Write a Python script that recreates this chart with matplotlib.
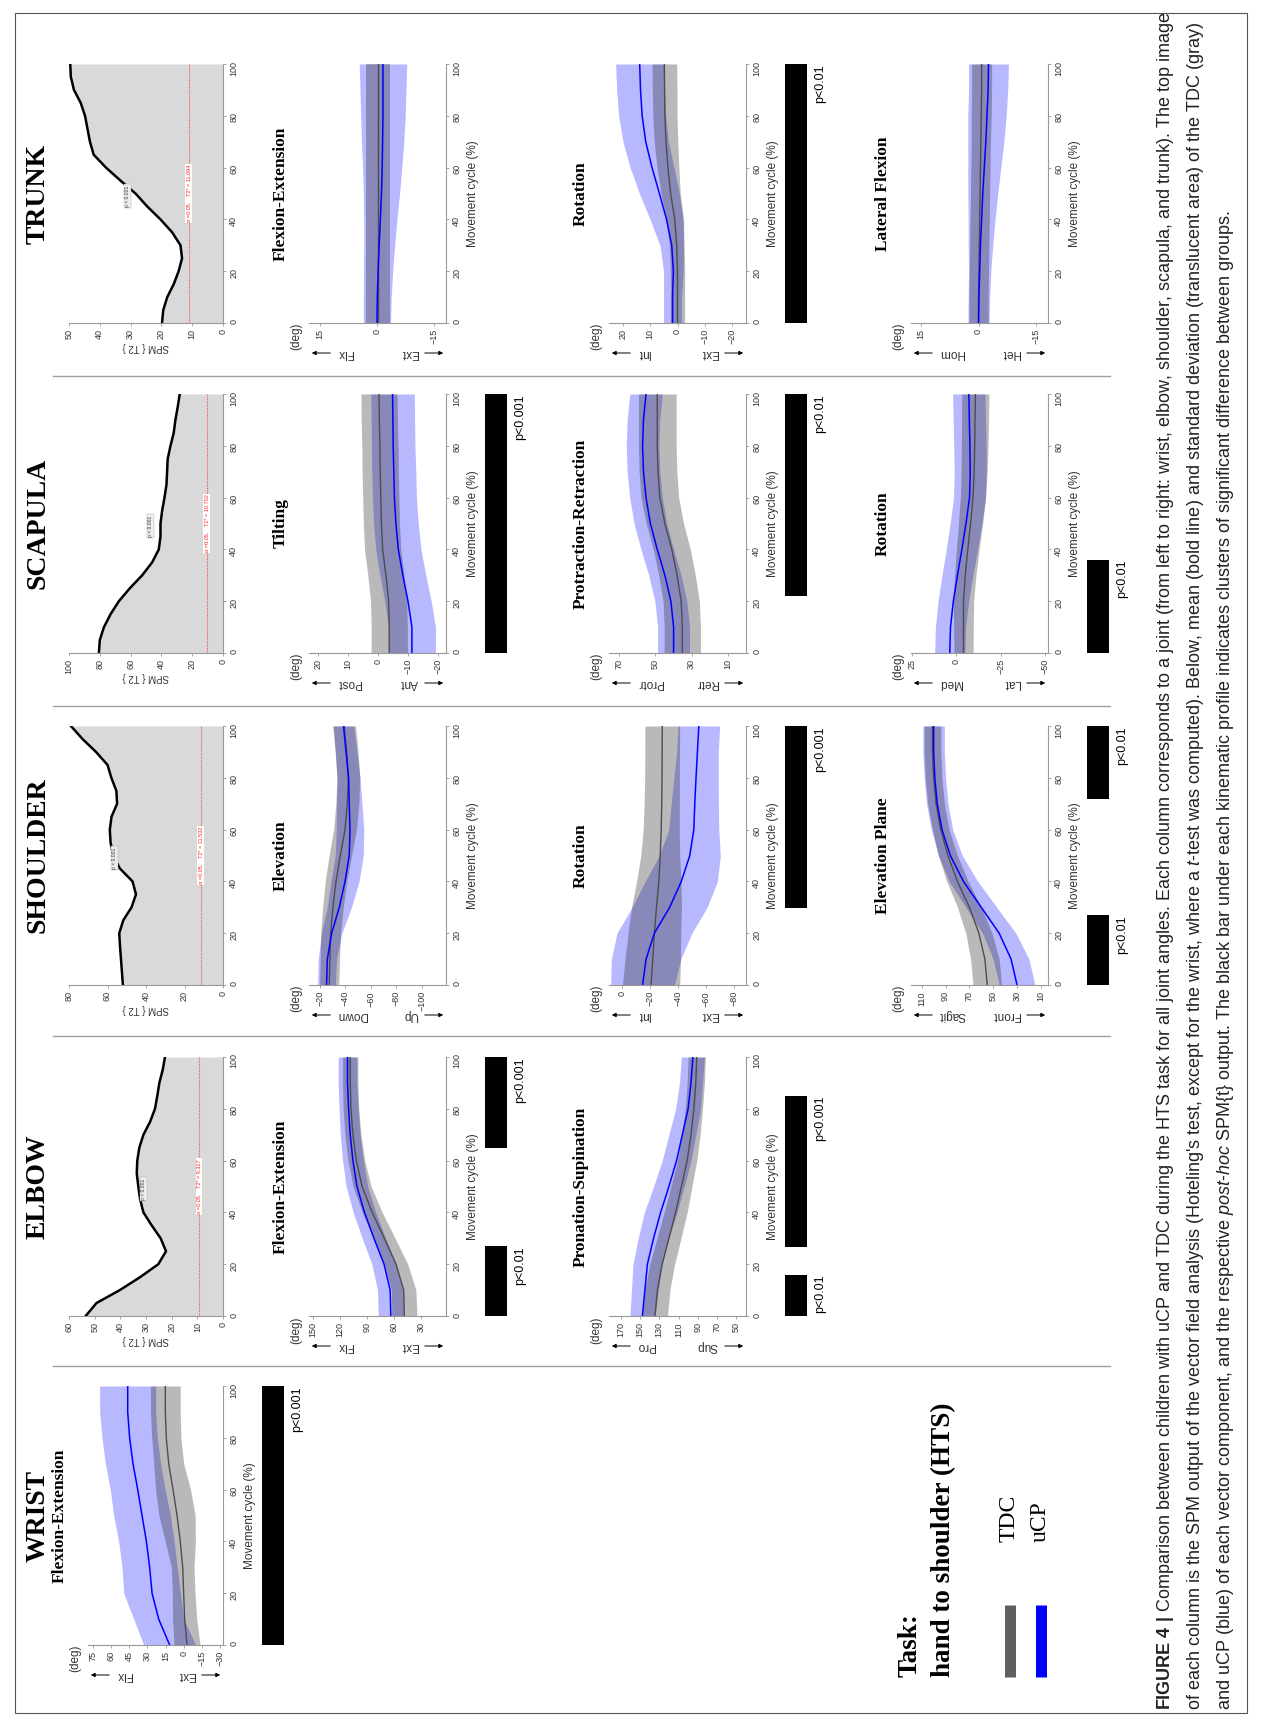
import matplotlib
matplotlib.use("Agg")
import matplotlib.pyplot as plt
from matplotlib.lines import Line2D
from matplotlib.patches import Rectangle, FancyArrowPatch
from matplotlib.transforms import blended_transform_factory

W, H = 1263, 1725

MOV = [0, 10, 20, 30, 40, 50, 60, 70, 80, 90, 100]
MOV5 = [0, 5, 10, 15, 20, 25, 30, 35, 40, 45, 50, 55, 60, 65, 70, 75, 80, 85, 90, 95, 100]
MOV_TICKS = [0, 20, 40, 60, 80, 100]

# ---------------- SPM{T2} curves ----------------
trunk_spm = [19.8, 19.4, 18.1, 16.0, 14.4, 13.3, 13.8, 16.5, 20.3, 24.6, 28.4,
             33.3, 38.0, 42.0, 43.2, 44.0, 44.8, 46.2, 48.4, 49.4, 49.6]
scapula_spm = [80.6, 80.0, 77.3, 73.0, 67.6, 60.5, 52.5, 46.0, 41.7, 40.6, 40.6,
               39.5, 38.0, 36.7, 36.3, 35.9, 34.1, 32.0, 30.9, 29.4, 28.1]
shoulder_spm = [52.0, 52.5, 53.0, 53.5, 53.9, 51.8, 47.5, 45.2, 47.0, 53.6, 57.0,
                58.4, 58.8, 57.9, 55.0, 55.4, 58.0, 60.0, 66.0, 73.0, 79.0]
elbow_spm = [53.5, 49.3, 40.2, 32.3, 25.2, 22.2, 24.3, 27.8, 31.0, 32.3, 33.0,
             33.6, 33.4, 32.6, 31.0, 28.4, 26.5, 25.6, 24.8, 23.5, 22.6]

# ---------------- kinematics (mean, sd) ----------------
trunk_fe_tdc = [-0.3, -0.3, -0.3, -0.3, -0.3, -0.3, -0.3, -0.3, -0.3, -0.3, -0.3]
trunk_fe_tdc_sd = [3.2, 3.2, 3.2, 3.2, 3.2, 3.2, 3.2, 3.2, 3.2, 3.2, 3.2]
trunk_fe_ucp = [0.0, -0.1, -0.3, -0.6, -0.9, -1.2, -1.4, -1.5, -1.6, -1.6, -1.6]
trunk_fe_ucp_sd = [3.6, 3.7, 3.85, 4.1, 4.4, 4.8, 5.2, 5.6, 5.9, 6.1, 6.3]

trunk_rot_tdc = [0.0, 0.0, 0.0, 0.3, 1.0, 2.5, 3.5, 4.2, 4.6, 4.7, 4.8]
trunk_rot_tdc_sd = [2.6, 2.6, 2.6, 2.7, 3.2, 3.5, 4.0, 4.3, 4.4, 4.5, 4.5]
trunk_rot_ucp = [1.8, 1.8, 1.5, 2.1, 4.0, 6.6, 9.3, 11.6, 12.9, 13.5, 13.8]
trunk_rot_ucp_sd = [3.3, 3.3, 3.6, 4.3, 6.0, 7.3, 8.0, 8.3, 8.6, 8.7, 8.8]

trunk_lf_tdc = [0.0, 0.0, -0.1, -0.2, -0.3, -0.4, -0.5, -0.6, -0.7, -0.8, -0.8]
trunk_lf_tdc_sd = [2.5, 2.5, 2.5, 2.5, 2.5, 2.5, 2.5, 2.5, 2.6, 2.6, 2.6]
trunk_lf_ucp = [0.0, -0.1, -0.3, -0.5, -0.8, -1.1, -1.5, -1.9, -2.2, -2.5, -2.6]
trunk_lf_ucp_sd = [2.75, 2.8, 2.9, 3.2, 3.5, 3.9, 4.3, 4.7, 5.0, 5.1, 5.2]

scap_tilt_tdc = [-3.7, -3.7, -3.5, -2.6, -1.5, -1.1, -0.9, -0.7, -0.6, -0.4, -0.3]
scap_tilt_tdc_sd = [6.0, 6.0, 6.0, 6.0, 6.0, 6.0, 6.0, 6.0, 6.0, 6.0, 6.0]
scap_tilt_ucp = [-11.2, -11.2, -9.9, -8.2, -6.7, -5.9, -5.4, -5.2, -5.0, -4.9, -4.8]
scap_tilt_ucp_sd = [7.8, 7.8, 7.7, 7.6, 7.5, 7.4, 7.3, 7.3, 7.2, 7.2, 7.2]

scap_pr_tdc = [35.1, 35.1, 35.7, 38.0, 40.9, 44.7, 47.5, 48.5, 48.9, 48.9, 48.9]
scap_pr_tdc_sd = [10.0, 10.0, 10.0, 10.1, 10.2, 10.3, 10.4, 10.4, 10.4, 10.4, 10.4]
scap_pr_ucp = [39.9, 39.9, 41.4, 44.7, 48.9, 52.7, 55.1, 56.5, 57.0, 56.5, 55.1]
scap_pr_ucp_sd = [8.8, 8.8, 8.8, 8.9, 9.0, 9.0, 9.0, 9.0, 9.0, 9.0, 9.0]

scap_rot_tdc = [-4.0, -4.0, -4.0, -5.0, -6.4, -8.0, -9.3, -10.0, -10.3, -10.5, -10.7]
scap_rot_tdc_sd = [5.4, 5.5, 5.7, 6.0, 6.4, 6.8, 7.1, 7.3, 7.5, 7.6, 7.6]
scap_rot_ucp = [3.7, 3.3, 1.7, -0.6, -3.1, -5.4, -7.4, -7.8, -7.6, -7.3, -7.0]
scap_rot_ucp_sd = [8.5, 8.5, 8.6, 8.7, 8.8, 8.9, 9.0, 9.0, 9.1, 9.1, 9.1]

sh_elev_tdc = [-27.3, -27.8, -28.4, -30.2, -32.6, -36.0, -39.7, -41.5, -42.3, -41.0, -39.0]
sh_elev_tdc_sd = [7.5, 7.6, 7.8, 8.1, 8.5, 8.8, 9.0, 9.0, 9.0, 9.0, 9.0]
sh_elev_ucp = [-25.2, -25.8, -29.2, -35.2, -39.7, -43.0, -43.6, -43.0, -42.5, -40.5, -38.5]
sh_elev_ucp_sd = [7.0, 7.2, 8.0, 9.5, 11.0, 11.0, 10.8, 10.0, 9.0, 8.5, 8.0]

sh_rot_tdc = [-20.6, -21.8, -23.0, -24.5, -26.2, -27.2, -27.9, -28.3, -28.5, -28.6, -28.7]
sh_rot_tdc_sd = [20.6, 20.0, 19.0, 18.0, 16.0, 14.0, 13.0, 12.7, 12.5, 12.5, 12.5]
sh_rot_ucp = [-14.5, -17.0, -23.0, -34.0, -42.4, -48.5, -51.4, -52.1, -53.0, -54.0, -55.0]
sh_rot_ucp_sd = [23.0, 25.0, 27.0, 27.0, 26.0, 22.0, 18.0, 17.0, 16.0, 15.0, 15.0]

sh_ep_tdc = [55.0, 57.0, 62.0, 70.0, 80.0, 88.0, 94.0, 98.0, 100.0, 101.0, 101.0]
sh_ep_tdc_sd = [12.0, 12.0, 11.0, 10.0, 9.0, 8.0, 7.0, 7.0, 7.0, 7.0, 7.0]
sh_ep_ucp = [30.0, 35.0, 45.0, 60.0, 75.0, 86.0, 93.0, 97.0, 99.0, 100.0, 100.0]
sh_ep_ucp_sd = [15.0, 15.0, 14.0, 13.0, 12.0, 10.0, 9.0, 9.0, 9.0, 9.0, 9.0]

elb_fe_tdc = [48.8, 49.5, 58.0, 71.0, 84.4, 95.6, 102.0, 105.8, 108.0, 108.8, 108.8]
elb_fe_tdc_sd = [14.0, 13.5, 13.0, 12.0, 11.0, 10.0, 9.3, 8.9, 8.7, 8.5, 8.5]
elb_fe_ucp = [63.8, 64.5, 71.3, 82.5, 93.0, 101.3, 105.8, 108.8, 110.6, 111.8, 111.8]
elb_fe_ucp_sd = [14.0, 14.0, 13.5, 13.0, 12.5, 12.0, 11.5, 11.0, 10.6, 10.4, 10.3]

elb_ps_tdc = [134.5, 132.0, 127.0, 120.0, 113.0, 107.0, 101.0, 97.0, 94.0, 92.0, 91.0]
elb_ps_tdc_sd = [13.0, 13.0, 13.0, 12.5, 12.0, 11.0, 10.0, 9.5, 9.0, 9.0, 9.0]
elb_ps_ucp = [147.6, 145.0, 142.4, 136.0, 128.6, 120.0, 112.0, 106.0, 100.0, 97.0, 95.0]
elb_ps_ucp_sd = [13.0, 14.0, 15.0, 16.0, 17.0, 16.0, 15.0, 14.0, 13.0, 12.0, 12.0]

wr_fe_tdc = [-2.8, -0.8, 0.0, 0.8, 2.8, 5.5, 8.8, 12.4, 14.4, 15.2, 15.2]
wr_fe_tdc_sd = [10.8, 10.0, 9.4, 9.4, 12.5, 15.0, 14.5, 12.4, 12.1, 12.3, 12.4]
wr_fe_ucp = [11.6, 20.7, 26.2, 28.2, 30.9, 34.5, 38.1, 42.0, 44.8, 46.4, 46.4]
wr_fe_ucp_sd = [21.5, 20.7, 23.5, 22.9, 23.0, 23.5, 22.7, 22.9, 22.9, 23.2, 23.2]

# ---------------- style / layout ----------------
SERIF = "Liberation Serif"
SANS = "Liberation Sans"
plt.rcParams["font.family"] = SANS
plt.rcParams["mathtext.fontset"] = "custom"
plt.rcParams["mathtext.rm"] = SANS
plt.rcParams["mathtext.it"] = SANS + ":italic"
plt.rcParams["mathtext.bf"] = SANS + ":bold"

AXC = "#999999"
TXT = "#333333"
GRAY_LINE = "#4d4d4d"
SPAN = 259  # px from 0 % to 100 %
COL_M0 = {"TRUNK": 323, "SCAPULA": 653, "SHOULDER": 985, "ELBOW": 1316, "WRIST": 1645}
ROW = {"spm": (69, 223), 1: (88, 223), 2: (309, 446), 3: (609, 746), 4: (911, 1048)}

fig = plt.figure(figsize=(W / 100, H / 100), dpi=100)


def rect(x0, x1, y0, y1):
    return [x0 / W, 1 - y1 / H, (x1 - x0) / W, (y1 - y0) / H]


def ftext(x, y, s, **kw):
    fig.text(x / W, 1 - y / H, s, **kw)


def farrow(x_tail, x_head, y):
    fig.add_artist(FancyArrowPatch(
        (x_tail / W, 1 - y / H), (x_head / W, 1 - y / H), transform=fig.transFigure,
        arrowstyle="-|>", mutation_scale=6, lw=0.7, color="k"))


def base_axes(col, row, vlim, ticks):
    top, spine = ROW[row]
    m0 = COL_M0[col]
    ax = fig.add_axes(rect(top, spine, m0 - SPAN, m0))
    ax.set_xlim(vlim[1], vlim[0])
    ax.set_ylim(0, 100)
    ax.patch.set_alpha(0)
    for s in ["top", "left"]:
        ax.spines[s].set_visible(False)
    for s in ["bottom", "right"]:
        ax.spines[s].set_color(AXC)
        ax.spines[s].set_linewidth(0.8)
    ax.yaxis.tick_right()
    ax.set_xticks(ticks)
    ax.set_yticks(MOV_TICKS)
    ax.tick_params(axis="both", colors=AXC, labelcolor=TXT, labelsize=6.5,
                   length=2.5, width=0.6, pad=2)
    ax.tick_params(axis="x", labelrotation=90)
    ax.tick_params(axis="y", labelrotation=90)
    return ax, top, spine, m0


def spm_panel(col, vmax, ticks, curve, thresh, pv):
    ax, top, spine, m0 = base_axes(col, "spm", (0, vmax), ticks)
    ax.fill_betweenx(MOV5, 0, curve, color="#d9d9d9", lw=0)
    ax.plot(curve, MOV5, color="k", lw=1.8)
    ax.axvline(thresh, color="#ff4d4d", ls=(0, (1, 1)), lw=0.8)
    ax.text(thresh, 50, "\u03b1 =0.05,    T2* = %.3f" % thresh, rotation=90, color="#ff2020",
            fontsize=4, ha="center", va="center",
            bbox=dict(fc="white", ec="none", pad=0.6))
    ax.text(pv, 49, "p < 0.001", rotation=90, color="#333333", fontsize=3.6,
            ha="center", va="center",
            bbox=dict(fc="#eeeeee", ec="#aaaaaa", lw=0.3, pad=0.8))
    ftext((top + spine) / 2, m0 + 24, "SPM { T2 }", rotation=180, fontsize=7,
          ha="center", va="center", color=TXT)


def kin_panel(col, row, title, vlim, ticks, words, tdc, tdc_sd, ucp, ucp_sd, bars):
    ax, top, spine, m0 = base_axes(col, row, vlim, ticks)
    ax.fill_betweenx(MOV, [m - s for m, s in zip(ucp, ucp_sd)],
                     [m + s for m, s in zip(ucp, ucp_sd)], color=(0, 0, 1), alpha=0.28, lw=0)
    ax.fill_betweenx(MOV, [m - s for m, s in zip(tdc, tdc_sd)],
                     [m + s for m, s in zip(tdc, tdc_sd)], color=(0.1, 0.1, 0.1), alpha=0.3, lw=0)
    ax.plot(tdc, MOV, color=GRAY_LINE, lw=1.0)
    ax.plot(ucp, MOV, color="#0000ff", lw=1.1)
    # titles and labels
    ftext(top - 28, m0 - SPAN / 2, title, rotation=90, fontsize=12.5, family=SERIF,
          weight="bold", ha="center", va="center")
    ftext(spine + 27, m0 - SPAN / 2, "Movement cycle (%)", rotation=90, fontsize=8.5,
          ha="center", va="center", color=TXT)
    ftext(top - 13, m0, "(deg)", rotation=90, fontsize=8.5, ha="right", va="center",
          rotation_mode="anchor", color=TXT)
    y_lab = m0 + 30
    farrow(top + 24, top, y_lab)
    farrow(spine - 24, spine, y_lab)
    ftext(top + 28, y_lab, words[0], rotation=180, fontsize=8.5, ha="left", va="center",
          color=TXT)
    ftext(spine - 28, y_lab, words[1], rotation=180, fontsize=8.5, ha="right", va="center",
          color=TXT)
    # significance bars
    if bars:
        bax = fig.add_axes(rect(spine + 39, spine + 61, m0 - SPAN, m0))
        bax.set_xlim(0, 1)
        bax.set_ylim(0, 100)
        bax.axis("off")
        tr = blended_transform_factory(bax.transAxes, bax.transData)
        for start, end, lab in bars:
            bax.bar(0.5, end - start, bottom=start, width=1.0, color="k")
            bax.text(1.6, end, lab, transform=tr, rotation=90, fontsize=9,
                     ha="right", va="center", rotation_mode="anchor")


# ---------------- TRUNK ----------------
spm_panel("TRUNK", 50, [0, 10, 20, 30, 40, 50], trunk_spm, 11.094, 31)
kin_panel("TRUNK", 2, "Flexion-Extension", (-18.3, 18.0), [-15, 0, 15], ("Flx", "Ext"),
          trunk_fe_tdc, trunk_fe_tdc_sd, trunk_fe_ucp, trunk_fe_ucp_sd, [])
kin_panel("TRUNK", 3, "Rotation", (-25, 25), [-20, -10, 0, 10, 20], ("Int", "Ext"),
          trunk_rot_tdc, trunk_rot_tdc_sd, trunk_rot_ucp, trunk_rot_ucp_sd,
          [(0, 100, "p<0.01")])
kin_panel("TRUNK", 4, "Lateral Flexion", (-18.1, 17.6), [-15, 0, 15], ("Hom", "Het"),
          trunk_lf_tdc, trunk_lf_tdc_sd, trunk_lf_ucp, trunk_lf_ucp_sd, [])

# ---------------- SCAPULA ----------------
spm_panel("SCAPULA", 100, [0, 20, 40, 60, 80, 100], scapula_spm, 10.702, 47)
kin_panel("SCAPULA", 2, "Tilting", (-22.5, 22.9), [-20, -10, 0, 10, 20], ("Post", "Ant"),
          scap_tilt_tdc, scap_tilt_tdc_sd, scap_tilt_ucp, scap_tilt_ucp_sd,
          [(0, 100, "p<0.001")])
kin_panel("SCAPULA", 3, "Protraction-Retraction", (0, 75.5), [10, 30, 50, 70], ("Protr", "Retr"),
          scap_pr_tdc, scap_pr_tdc_sd, scap_pr_ucp, scap_pr_ucp_sd,
          [(22, 100, "p<0.01")])
kin_panel("SCAPULA", 4, "Rotation", (-51.5, 25.5), [-50, -25, 0, 25], ("Med", "Lat"),
          scap_rot_tdc, scap_rot_tdc_sd, scap_rot_ucp, scap_rot_ucp_sd,
          [(0, 36, "p<0.01")])

# ---------------- SHOULDER ----------------
spm_panel("SHOULDER", 80, [0, 20, 40, 60, 80], shoulder_spm, 11.532, 56.5)
kin_panel("SHOULDER", 2, "Elevation", (-119, -11.4), [-100, -80, -60, -40, -20], ("Down", "Up"),
          sh_elev_tdc, sh_elev_tdc_sd, sh_elev_ucp, sh_elev_ucp_sd, [])
kin_panel("SHOULDER", 3, "Rotation", (-89, 9.7), [-80, -60, -40, -20, 0], ("Int", "Ext"),
          sh_rot_tdc, sh_rot_tdc_sd, sh_rot_ucp, sh_rot_ucp_sd,
          [(29.7, 100, "p<0.001")])
kin_panel("SHOULDER", 4, "Elevation Plane", (4, 119), [10, 30, 50, 70, 90, 110], ("Sagit", "Front"),
          sh_ep_tdc, sh_ep_tdc_sd, sh_ep_ucp, sh_ep_ucp_sd,
          [(0, 27, "p<0.01"), (72, 100, "p<0.01")])

# ---------------- ELBOW ----------------
spm_panel("ELBOW", 60, [0, 10, 20, 30, 40, 50, 60], elbow_spm, 9.317, 31)
kin_panel("ELBOW", 2, "Flexion-Extension", (2.6, 154.5), [30, 60, 90, 120, 150], ("Flx", "Ext"),
          elb_fe_tdc, elb_fe_tdc_sd, elb_fe_ucp, elb_fe_ucp_sd,
          [(0, 27, "p<0.01"), (65, 100, "p<0.001")])
kin_panel("ELBOW", 3, "Pronation-Supination", (39.7, 182.4), [50, 70, 90, 110, 130, 150, 170],
          ("Pro", "Sup"), elb_ps_tdc, elb_ps_tdc_sd, elb_ps_ucp, elb_ps_ucp_sd,
          [(0, 16, "p<0.01"), (26.7, 85, "p<0.001")])

# ---------------- WRIST ----------------
kin_panel("WRIST", 1, "Flexion-Extension", (-32.6, 79.3), [-30, -15, 0, 15, 30, 45, 60, 75],
          ("Flx", "Ext"), wr_fe_tdc, wr_fe_tdc_sd, wr_fe_ucp, wr_fe_ucp_sd,
          [(0, 100, "p<0.001")])

# column titles
for name, m0 in COL_M0.items():
    ftext(38, m0 - SPAN / 2, name, rotation=90, fontsize=20, family=SERIF, weight="bold",
          ha="center", va="center")

# column separators
for y in [376, 706, 1036, 1366]:
    fig.add_artist(Line2D([53 / W, 1110 / W], [1 - y / H, 1 - y / H], color="#a0a0a0",
                          lw=1.0, transform=fig.transFigure))

# task + legend
ftext(910, 1677, "Task:", rotation=90, fontsize=19.5, family=SERIF, weight="bold",
      ha="left", va="center", rotation_mode="anchor")
ftext(944, 1677, "hand to shoulder (HTS)", rotation=90, fontsize=19.5, family=SERIF,
      weight="bold", ha="left", va="center", rotation_mode="anchor")
for xc, col, lab in [(1009.5, "#5f5f5f", "TDC"), (1040.5, "#0000ff", "uCP")]:
    fig.add_artist(Line2D([xc / W, xc / W], [1 - 1605 / H, 1 - 1677 / H], color=col,
                          lw=7.9, solid_capstyle="butt", transform=fig.transFigure))
    ftext(xc, 1542, lab, rotation=90, fontsize=17, family=SERIF, ha="left", va="center",
          rotation_mode="anchor")

# caption
cap = [
    r"$\bf{FIGURE\ 4\ |}$ Comparison between children with uCP and TDC during the HTS task for all "
    r"joint angles. Each column corresponds to a joint (from left to right: wrist, elbow, shoulder, "
    r"scapula, and trunk). The top image",
    r"of each column is the SPM output of the vector field analysis (Hoteling's test, except for the "
    r"wrist, where a $\it{t}$-test was computed). Below, mean (bold line) and standard deviation "
    r"(translucent area) of the TDC (gray)",
    r"and uCP (blue) of each vector component, and the respective $\it{post}$-$\it{hoc}$ SPM{t} output. "
    r"The black bar under each kinematic profile indicates clusters of significant difference "
    r"between groups.",
]
for i, line in enumerate(cap):
    ftext(1166 + 29.5 * i, 1710, line, rotation=90, fontsize=13, ha="left", va="center",
          rotation_mode="anchor", color="#222222")

# outer frame of the figure panel
fig.add_artist(Rectangle((15 / W, 1 - 1713 / H), (1247 - 15) / W, (1713 - 13) / H,
                         transform=fig.transFigure, fill=False, ec="#555555", lw=0.8))

fig.savefig("out.png", dpi=100)
